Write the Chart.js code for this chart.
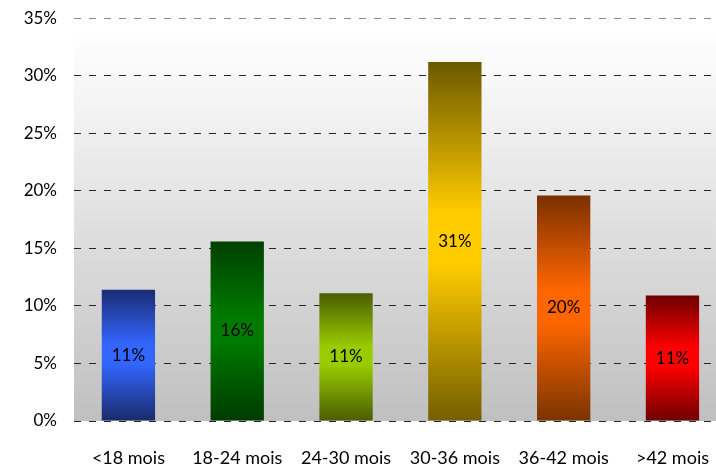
<!DOCTYPE html>
<html>
<head>
<meta charset="utf-8">
<script src="https://cdn.jsdelivr.net/npm/chart.js@4/dist/chart.umd.min.js"></script>
<style>
  html, body { margin: 0; padding: 0; background: #ffffff; overflow: hidden; }
  #wrap { width: 727px; height: 474px; margin-top: -9px; }
  canvas { display: block; }
</style>
</head>
<body>
<div id="wrap"><canvas id="c" width="727" height="474"></canvas></div>
<script>
// Age brackets and their share of the total (percent)
const categories = ['<18 mois', '18-24 mois', '24-30 mois', '30-36 mois', '36-42 mois', '>42 mois'];
const shares = [11.4, 15.6, 11.1, 31.2, 19.6, 10.9];

// Each bar: dark edge colour and bright centre colour
const edgeTop    = ['#1b2c74', '#003f00', '#4b5d00', '#6b5800', '#7a3000', '#6e0000'];
const centre     = ['#3366ff', '#007a00', '#99cc00', '#ffcc00', '#ff6600', '#ff0000'];
const edgeBottom = ['#1a2a6a', '#003a00', '#4a5c00', '#745e00', '#7a3300', '#6e0000'];

const FONT = 'Lato, "Open Sans", sans-serif';

function barFill(ctx) {
  const chart = ctx.chart;
  const i = ctx.dataIndex;
  if (!chart.chartArea || i === undefined) return centre[i] || '#888';
  const y = chart.scales.y;
  const top = y.getPixelForValue(shares[i]);
  const bottom = y.getPixelForValue(0);
  const g = chart.ctx.createLinearGradient(0, top, 0, bottom);
  g.addColorStop(0, edgeTop[i]);
  g.addColorStop(0.42, centre[i]);
  g.addColorStop(0.56, centre[i]);
  g.addColorStop(1, edgeBottom[i]);
  return g;
}

// Plot background: white fading to grey
const plotBackground = {
  id: 'plotBackground',
  beforeDraw(chart) {
    const a = chart.chartArea;
    const c = chart.ctx;
    const top = a.top + 15;
    const g = c.createLinearGradient(0, top, 0, a.bottom);
    g.addColorStop(0, '#ffffff');
    g.addColorStop(1, '#c0c0c0');
    c.save();
    c.fillStyle = g;
    c.fillRect(a.left, top, a.right - a.left, a.bottom - top);
    c.restore();
  }
};

// Rounded value written in the middle of each bar
const centreLabels = {
  id: 'centreLabels',
  afterDatasetsDraw(chart) {
    const c = chart.ctx;
    const meta = chart.getDatasetMeta(0);
    c.save();
    c.font = '17px ' + FONT;
    c.fillStyle = '#000000';
    c.textAlign = 'center';
    c.textBaseline = 'middle';
    meta.data.forEach((bar, i) => {
      const v = chart.data.datasets[0].data[i];
      c.fillText(Math.round(v) + '%', bar.x, (bar.y + bar.base) / 2);
    });
    c.restore();
  }
};

new Chart(document.getElementById('c'), {
  type: 'bar',
  data: {
    labels: categories,
    datasets: [{
      data: shares,
      backgroundColor: barFill,
      borderWidth: 0,
      barPercentage: 0.49,
      categoryPercentage: 1.0
    }]
  },
  options: {
    responsive: false,
    animation: false,
    layout: { padding: { top: 0, right: 0, left: 0, bottom: 0 } },
    plugins: {
      legend: { display: false },
      tooltip: { enabled: false },
      title: { display: false }
    },
    scales: {
      x: {
        grid: { display: false },
        border: { display: false },
        ticks: {
          color: '#000000',
          font: { family: FONT, size: 18 },
          padding: 18,
          maxRotation: 0
        },
        afterFit(scale) { scale.height = 44; }
      },
      y: {
        min: 0,
        max: 35,
        border: { display: false, dash: [7, 8] },
        grid: {
          drawTicks: false,
          color: (ctx) => (ctx.index === 7) ? '#8a8a8a' : '#262626',
          lineWidth: 1
        },
        ticks: {
          stepSize: 5,
          color: '#000000',
          font: { family: FONT, size: 17 },
          padding: 17,
          callback: (v) => v + '%'
        },
        afterFit(scale) { scale.width = 74; }
      }
    }
  },
  plugins: [plotBackground, centreLabels]
});
</script>
</body>
</html>
